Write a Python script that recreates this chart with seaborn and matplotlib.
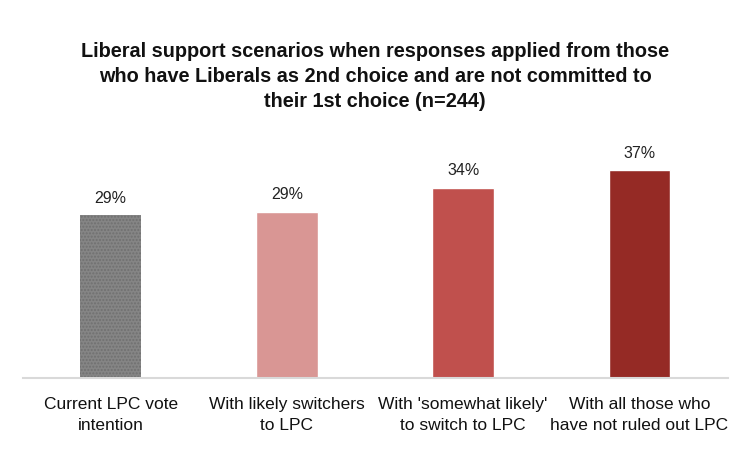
import numpy as np
import pandas as pd
import matplotlib.pyplot as plt
import seaborn as sns

# dados
categories = ['Current LPC vote\nintention', 'With likely switchers\nto LPC',
              "With 'somewhat likely'\nto switch to LPC", 'With all those who\nhave not ruled out LPC']
values = [29.0, 29.6, 33.9, 37.0]
labels = ['29%', '29%', '34%', '37%']
colors = ['#858585', '#D99694', '#C0504D', '#952A25']

df = pd.DataFrame({'cat': categories, 'val': values})

sns.set_style('white')
plt.rcParams['font.family'] = ['Liberation Sans', 'DejaVu Sans']

fig = plt.figure(figsize=(7.5, 4.5), dpi=100)
ax = fig.add_axes([0.03, 0.16, 0.94, 0.53])

sns.barplot(data=df, x='cat', y='val', hue='cat', palette=colors, legend=False,
            width=0.35, ax=ax, saturation=1)

# primeira barra com textura
ax.patches[0].set_hatch('.....')
ax.patches[0].set_edgecolor('#707070')
ax.patches[0].set_linewidth(0)

for i, (v, t) in enumerate(zip(values, labels)):
    ax.text(i, v + 1.7, t, ha='center', va='bottom', fontsize=11.5, color='#222222')

ax.set_ylim(0, 42.5)
ax.set_xlim(-0.5, 3.5)
ax.set_yticks([])
ax.set_xlabel('')
ax.set_ylabel('')
ax.tick_params(axis='x', length=0, labelsize=12.5, pad=14, labelcolor='#111111')
for lab in ax.get_xticklabels():
    lab.set_linespacing(1.45)
for s in ['top', 'left', 'right']:
    ax.spines[s].set_visible(False)
ax.spines['bottom'].set_color('#D9D9D9')
ax.spines['bottom'].set_linewidth(1.5)

fig.text(0.5, 0.831, 'Liberal support scenarios when responses applied from those\n'
         'who have Liberals as 2nd choice and are not committed to\n'
         'their 1st choice (n=244)', ha='center', va='center',
         fontsize=14.3, fontweight='bold', linespacing=1.4, color='#111111')

fig.savefig('out.png', dpi=100)
